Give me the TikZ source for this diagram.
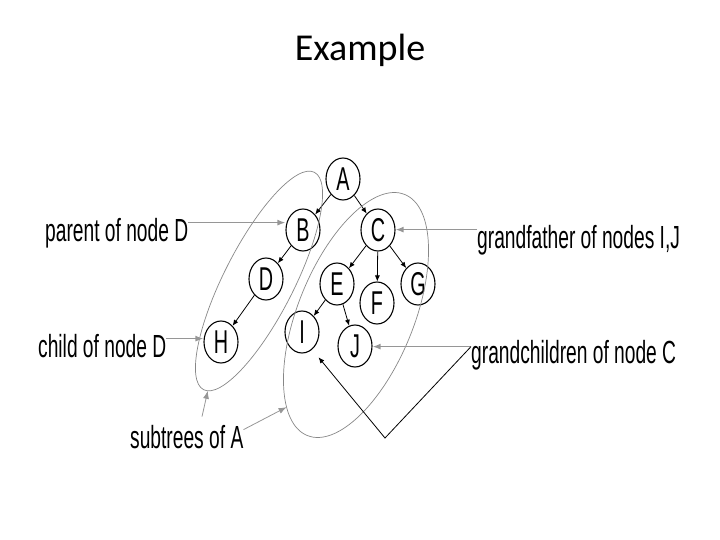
\documentclass[tikz,border=0pt]{standalone}
\usepackage{fontspec}
\setmainfont{Liberation Sans}
\newfontfamily\narrowfont[FakeStretch=0.6]{Liberation Sans}
\newfontfamily\titlefont{Carlito}
\usepackage{tikz}
\usetikzlibrary{arrows.meta,shapes.geometric}
\definecolor{pointergray}{RGB}{150,150,150}
\definecolor{setgray}{RGB}{135,135,135}

\begin{document}
\begin{tikzpicture}[x=1pt,y=-1pt,
vertex/.style={ellipse, draw, line width=1.1pt, minimum width=34pt, minimum height=42pt, inner sep=0pt, font=\narrowfont\fontsize{33}{33}\selectfont},
link/.style={-{Latex[length=6pt,width=5pt]}, line width=0.8pt},
caption/.style={anchor=base west, inner sep=0pt, font=\narrowfont\fontsize{32}{32}\selectfont},
pointer/.style={-{Latex[length=8pt,width=6pt]}, draw=pointergray, line width=1.4pt},
subset/.style={ellipse, draw=setgray, line width=0.7pt, inner sep=0pt, outer sep=0pt}]
\useasboundingbox (0,0) rectangle (720,540);

\node[anchor=base, font=\titlefont\fontsize{38}{38}\selectfont] (title) at (360,61) {Example};

% the tree
\node[vertex] (A) at (343,179) {A};
\node[vertex] (B) at (303,230) {B};
\node[vertex] (C) at (378,230) {C};
\node[vertex] (D) at (266,279) {D};
\node[vertex] (E) at (337,284) {E};
\node[vertex] (F) at (377,303) {F};
\node[vertex] (G) at (418,284) {G};
\node[vertex] (H) at (221,342) {H};
\node[vertex] (I) at (302,332) {I};
\node[vertex] (J) at (355,346) {J};
\foreach \from/\to in {A/B,A/C,B/D,D/H,C/E,C/F,C/G,E/I,E/J}
	\draw[link] (\from) -- (\to);

% subtrees of A
\node[subset, minimum width=244pt, minimum height=70pt, rotate=63] (leftset) at (259,281) {};
\node[subset, minimum width=260pt, minimum height=116pt, rotate=68] (rightset) at (356,315) {};

% labels
\node[caption] (parent) at (45,241) {parent of node D};
\node[caption] (child) at (38,357) {child of node D};
\node[caption] (grandfather) at (477,248) {grandfather of nodes I,J};
\node[caption] (grandchildren) at (471,363) {grandchildren of node C};
\node[caption] (subtrees) at (130,448) {subtrees of A};
\coordinate (bend) at (385,438);

\draw[pointer] ([yshift=-5]parent.north east) -- ([yshift=-5]parent.north east -| B.west);
\draw[pointer] ([yshift=-5]child.north east) -- ([yshift=-5]child.north east -| H.west);
\draw[pointer] ([yshift=-5]grandfather.north west) -- ([yshift=-5]grandfather.north west -| C.east);
\draw[pointer] ([yshift=-7]grandchildren.north west) -- ([yshift=-7]grandchildren.north west -| J.east);
\draw[link, shorten >=10pt] ([yshift=-7]grandchildren.north west) -- (bend) -- (I.-60);
\draw[pointer, line width=0.8pt] ([shift={(72,-8)}]subtrees.north west) -- (leftset.182);
\draw[pointer, line width=0.8pt] ([yshift=-5]subtrees.north east) -- (rightset.165);
\end{tikzpicture}
\end{document}
